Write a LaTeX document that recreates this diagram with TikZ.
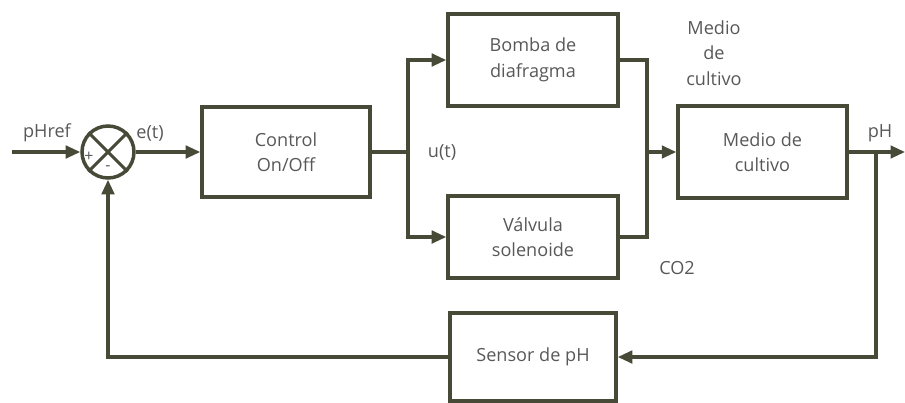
\documentclass[tikz,border=0pt]{standalone}
\usepackage{fontspec}
\setmainfont{Open Sans}
\usepackage{tikz}
\usetikzlibrary{arrows.meta}
\usepackage{xcolor}
\definecolor{linea}{RGB}{72,74,56}
\definecolor{texto}{RGB}{88,88,88}

\begin{document}
\begin{tikzpicture}[>={Triangle[length=2.9mm,width=2.5mm]},font=\fontsize{10.3}{14.5}\selectfont,line width=1.8pt,
  blk/.style={draw=linea,line width=2pt,text=texto,align=center,inner sep=0pt},
  lbl/.style={text=texto,align=center,inner sep=0pt}]
\useasboundingbox (0,0) rectangle (18.1,8.04);
\node[blk,circle,minimum size=1.04cm] (sum) at (2.16,5) {};
\draw[linea] (sum.north west) -- (sum.south east) (sum.north east) -- (sum.south west);
\node[lbl,font=\small] (plus) at (1.78,4.9) {+};
\node[lbl,font=\small] (minus) at (2.16,4.68) {-};
\node[blk,minimum width=3.36cm,minimum height=1.8cm] (control) at (5.72,5) {Control\\On/Off};
\node[blk,minimum width=3.4cm,minimum height=1.84cm] (bomba) at (10.66,6.84) {Bomba de\\diafragma};
\node[blk,minimum width=3.4cm,minimum height=1.64cm] (valvula) at (10.66,3.3) {Válvula\\solenoide};
\node[blk,minimum width=3.38cm,minimum height=1.84cm] (medio) at (15.25,5) {Medio de\\cultivo};
\node[blk,minimum width=3.32cm,minimum height=1.76cm] (sensor) at (10.66,0.9) {Sensor de pH};
\coordinate (in) at (0.24,5);
\coordinate (split) at (8.16,5);
\coordinate (merge) at (12.94,5);
\coordinate (tap) at (17.52,5);
\coordinate (out) at (18.1,5);
\draw[linea,->] (in) -- (sum);
\draw[linea,->] (sum) -- (control);
\draw[linea] (control) -- (split);
\draw[linea,->] (split) |- (bomba);
\draw[linea,->] (split) |- (valvula);
\draw[linea] (bomba) -| (merge);
\draw[linea] (valvula) -| (merge);
\draw[linea,->] (merge) -- (medio);
\draw[linea,->] (medio) -- (out);
\draw[linea,->] (tap) |- (sensor);
\draw[linea,->] (sensor) -| (sum);
\node[lbl] (ref) at (0.94,5.38) {pHref};
\node[lbl] (err) at (3.0,5.38) {e(t)};
\node[lbl] (u) at (8.84,5) {u(t)};
\node[lbl] (ph) at (17.6,5.38) {pH};
\node[lbl] (cult) at (14.28,6.98) {Medio\\de\\cultivo};
\node[lbl] (co2) at (13.54,2.68) {CO2};
\end{tikzpicture}
\end{document}
